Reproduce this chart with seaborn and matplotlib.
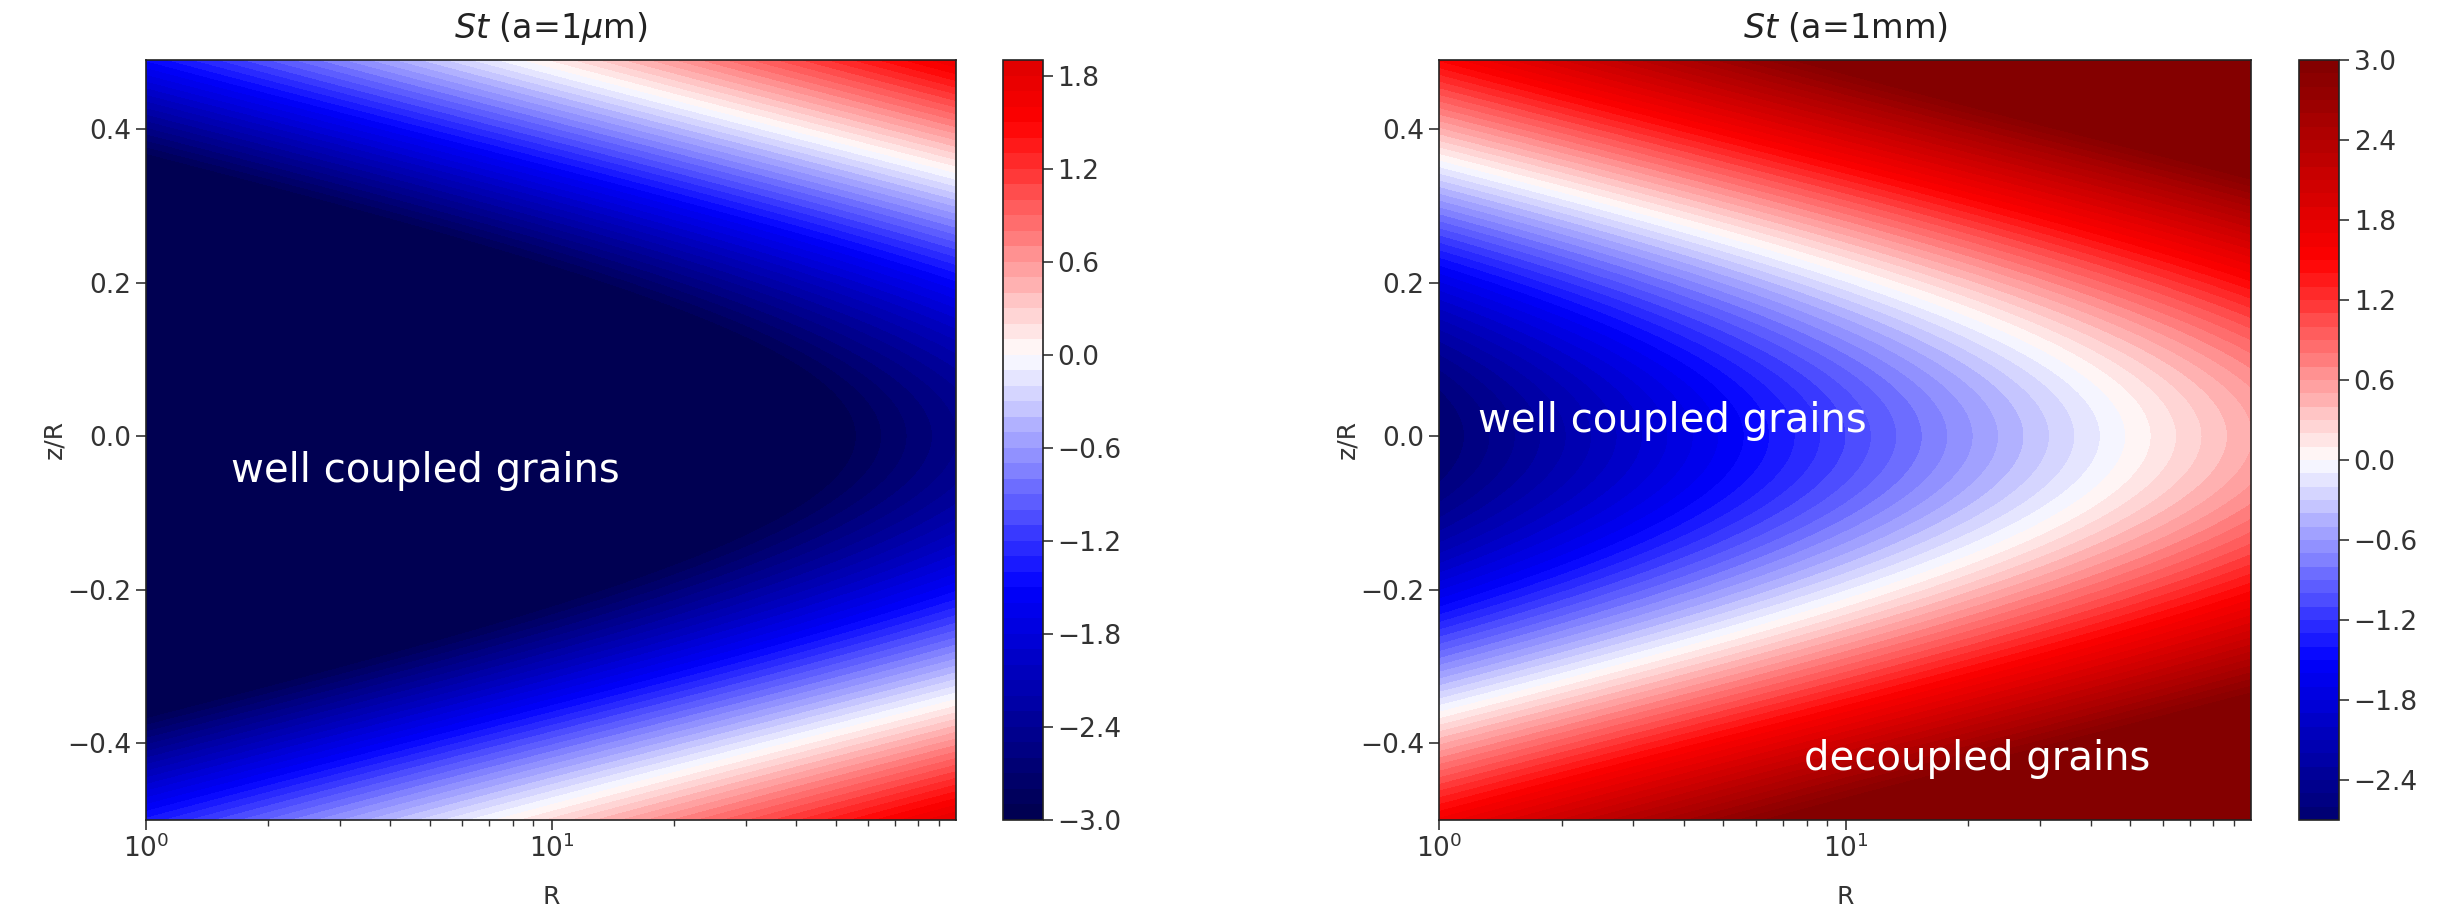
import numpy as np
import matplotlib
matplotlib.use("Agg")
import matplotlib.pyplot as plt
import seaborn as sns

# Panel titles (grain size) and the midplane log10 Stokes number at R = 1
grain_sizes = [r"(a=1$\mu$m)", "(a=1mm)"]
log_st_mid_at_r1 = [-5.7, -2.7]

# Disc model: midplane St grows as R**st_slope; vertical rise of log10 St
# with height is vert_coeff * (z/R)^2 / (1 + vert_saturation * (z/R)^2)
st_slope = 1.6
vert_coeff = 26.8
vert_saturation = 2.2

# Colour range and colourbar ticks
clip_range = [-3.0, 3.0]
level_step = 0.1
cbar_ticks = [-3.0, -2.4, -1.8, -1.2, -0.6, 0.0, 0.6, 1.2, 1.8, 2.4, 3.0]

# Region labels: (text, R, z/R) per panel
labels = [
    [("well coupled grains", 1.62, -0.045)],
    [("well coupled grains", 1.25, 0.02), ("decoupled grains", 7.9, -0.42)],
]

# Grid in R (log) and z/R
R = np.logspace(0, np.log10(99), 400)
zr = np.linspace(-0.5, 0.49, 300)
RR, ZZ = np.meshgrid(R, zr)

sns.set_theme(style="ticks")
plt.rcParams["font.family"] = ["DejaVu Sans"]
plt.rcParams["mathtext.fontset"] = "dejavusans"

cmap = sns.color_palette("seismic", as_cmap=True)
norm = matplotlib.colors.Normalize(vmin=clip_range[0], vmax=clip_range[1])

fig = plt.figure(figsize=(24.57, 9.09), dpi=100)
ax_pos = [[0.0594, 0.098, 0.3297, 0.836], [0.5857, 0.098, 0.3305, 0.836]]
cb_pos = [[0.4082, 0.098, 0.0163, 0.836], [0.9357, 0.098, 0.0163, 0.836]]

tick_fs = 19

for i in range(2):
    ax = fig.add_axes(ax_pos[i])
    cax = fig.add_axes(cb_pos[i])
    # log10 St: midplane power law plus the rise with height above the disc
    vert = vert_coeff * ZZ**2 / (1.0 + vert_saturation * ZZ**2)
    log_st = log_st_mid_at_r1[i] + st_slope * np.log10(RR) + vert
    log_st = np.clip(log_st, clip_range[0], clip_range[1])
    lo = np.floor(log_st.min() / level_step + 1e-6) * level_step
    hi = np.ceil(log_st.max() / level_step - 1e-6) * level_step
    levels = np.arange(lo, hi + level_step / 2, level_step)
    cs = ax.contourf(RR, ZZ, log_st, levels=levels, cmap=cmap, norm=norm)
    ax.set_xscale("log")
    ax.set_xlim(1, 99)
    ax.set_ylim(-0.5, 0.49)
    ax.set_yticks([-0.4, -0.2, 0.0, 0.2, 0.4])
    ax.tick_params(axis="both", which="major", labelsize=tick_fs, length=7, width=1.2,
                   direction="out", color="#333333", labelcolor="#333333")
    ax.tick_params(axis="x", which="minor", length=4, width=1.0, color="#333333")
    ax.set_xlabel("R", fontsize=18, color="#333333")
    ax.set_ylabel("z/R", fontsize=18, color="#333333")
    ax.xaxis.set_label_coords(0.5, -0.085)
    ax.yaxis.set_label_coords(-0.098, 0.5)
    ax.set_title(r"$St$ " + grain_sizes[i], fontsize=24, pad=16, color="#222222")
    for sp in ax.spines.values():
        sp.set_linewidth(1.2)
        sp.set_color("#222222")
    for txt, rx, zy in labels[i]:
        ax.text(rx, zy, txt, color="white", fontsize=29, family="DejaVu Sans",
                ha="left", va="center")
    cb = fig.colorbar(cs, cax=cax)
    cb.set_ticks([t for t in cbar_ticks if lo - 1e-9 <= t <= hi + 1e-9])
    cb.ax.tick_params(labelsize=tick_fs, length=7, width=1.2, color="#333333",
                      labelcolor="#333333")
    cb.outline.set_linewidth(1.2)
    cb.outline.set_edgecolor("#222222")

fig.savefig("out.png", dpi=100)
